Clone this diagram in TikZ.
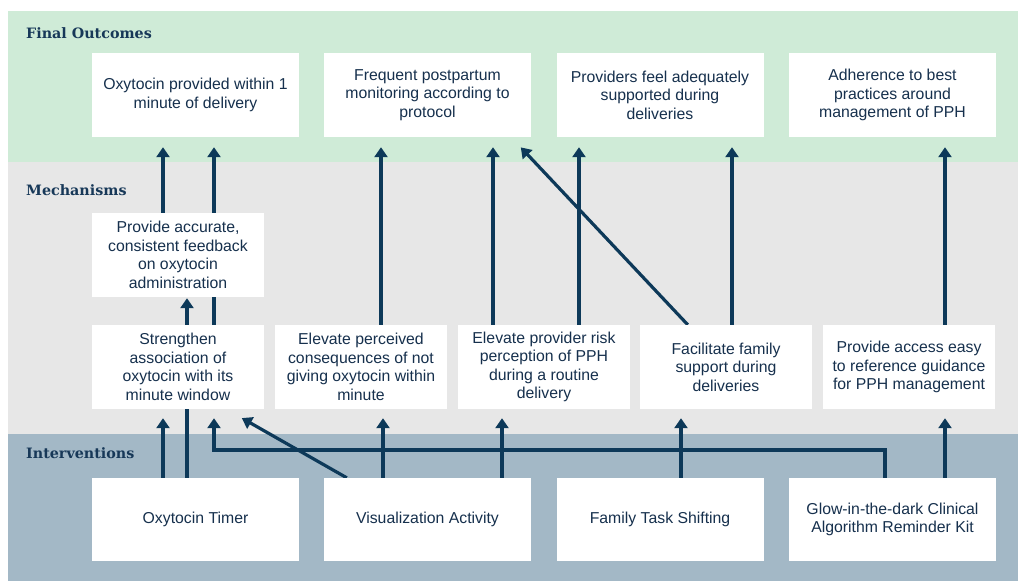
\documentclass[tikz,border=0pt]{standalone}
\usepackage{fontspec}
\setmainfont{Liberation Sans}
\newfontfamily\headfont{DejaVu Serif}
\usetikzlibrary{arrows.meta}
\pgfdeclarelayer{bands}
\pgfdeclarelayer{links}
\pgfsetlayers{bands,links,main}
\definecolor{bandgreen}{HTML}{CFEBD7}
\definecolor{bandgray}{HTML}{E7E7E7}
\definecolor{bandblue}{HTML}{A3B8C6}
\definecolor{arrnavy}{HTML}{0D3959}
\definecolor{txtnavy}{HTML}{16304D}
\definecolor{headnavy}{HTML}{173858}
\begin{document}
\begin{tikzpicture}[x=1pt,y=-1pt,
  box/.style={fill=white, draw=none, inner sep=0pt, align=center, text=txtnavy,
    font=\fontsize{15.8}{18.6}\selectfont},
  outbox/.style={box, minimum width=207pt, minimum height=84pt},
  mechbox/.style={box, minimum width=172pt, minimum height=84pt},
  intbox/.style={box, minimum width=207pt, minimum height=83pt},
  arr/.style={draw=arrnavy, line width=3.2pt, -{Triangle[width=13pt,length=10pt]}, shorten >=10pt},
  bandlabel/.style={anchor=west, inner sep=0pt, text=headnavy,
    font=\headfont\bfseries\fontsize{14.3}{16}\selectfont}
]
\useasboundingbox (0,0) rectangle (1018,581);
\begin{pgfonlayer}{bands}
  \fill[bandgreen] (8,11) rectangle (1018,162);
  \fill[bandgray] (8,162) rectangle (1018,434);
  \fill[bandblue] (8,434) rectangle (1018,581);
\end{pgfonlayer}

\node[bandlabel] (lfo) at (26,33) {Final Outcomes};
\node[bandlabel] (lme) at (26,190) {Mechanisms};
\node[bandlabel] (lin) at (26,453) {Interventions};

% final outcomes
\node[outbox] (o1) at (195.5,95) {Oxytocin provided within 1\\minute of delivery};
\node[outbox] (o2) at (427.5,95) {Frequent postpartum\\monitoring according to\\protocol};
\node[outbox] (o3) at (660,95) {Providers feel adequately\\supported during\\deliveries};
\node[outbox] (o4) at (892.5,95) {Adherence to best\\practices around\\management of PPH};

% mechanisms
\node[mechbox] (fb) at (178,255) {Provide accurate,\\consistent feedback\\on oxytocin\\administration};
\node[mechbox] (str) at (178,367) {Strengthen\\association of\\oxytocin with its\\minute window};
\node[mechbox] (per) at (361,367) {Elevate perceived\\consequences of not\\giving oxytocin within\\minute};
\node[mechbox] (risk) at (544,367) {Elevate provider risk\\perception of PPH\\during a routine\\delivery};
\node[mechbox] (fac) at (726,367) {Facilitate family\\support during\\deliveries};
\node[mechbox] (acc) at (909,367) {Provide access easy\\to reference guidance\\for PPH management};

% interventions
\node[intbox] (tim) at (195.5,519.5) {Oxytocin Timer};
\node[intbox] (vis) at (427.5,519.5) {Visualization Activity};
\node[intbox] (fam) at (660,519.5) {Family Task Shifting};
\node[intbox] (glow) at (892.5,519.5) {Glow-in-the-dark Clinical\\Algorithm Reminder Kit};

% x positions of connectors
\coordinate (x163) at (163,0);
\coordinate (x187) at (187,0);
\coordinate (x214) at (214,0);
\coordinate (x381) at (381,0);
\coordinate (x383) at (383,0);
\coordinate (x493) at (493,0);
\coordinate (x502) at (502,0);
\coordinate (x579) at (579,0);
\coordinate (x681) at (681,0);
\coordinate (x732) at (732,0);
\coordinate (x945) at (945,0);
\coordinate (bend) at (885,450);

\begin{pgfonlayer}{links}
  % interventions -> mechanisms
  \draw[arr, shorten >=9pt] (tim.north -| x163) -- (str.south -| x163);
  \draw[arr, shorten >=1pt] (tim.north -| x187) -- (fb.south -| x187);
  \draw[arr, shorten >=18pt] ([xshift=23pt]vis.north west) -- ([xshift=-38pt]str.south east);
  \draw[arr, shorten >=9pt] (vis.north -| x383) -- (per.south -| x383);
  \draw[arr, shorten >=9pt] (vis.north -| x502) -- (risk.south -| x502);
  \draw[arr, shorten >=9pt] (fam.north -| x681) -- (fac.south -| x681);
  \draw[arr, shorten >=9pt] (glow.north -| bend) -- (bend) -| (str.south -| x214);
  \draw[arr, shorten >=9pt] (glow.north -| x945) -- (acc.south -| x945);
  % mechanisms -> outcomes
  \draw[arr] (fb.north -| x163) -- (o1.south -| x163);
  \draw[arr] (str.north -| x214) -- (o1.south -| x214);
  \draw[arr] (per.north -| x381) -- (o2.south -| x381);
  \draw[arr] (risk.north -| x493) -- (o2.south -| x493);
  \draw[arr] (risk.north -| x579) -- (o3.south -| x579);
  \draw[arr, shorten >=14pt] ([xshift=48pt]fac.north west) -- ([xshift=-20pt]o2.south east);
  \draw[arr] (fac.north -| x732) -- (o3.south -| x732);
  \draw[arr] (acc.north -| x945) -- (o4.south -| x945);
\end{pgfonlayer}
\end{tikzpicture}
\end{document}
